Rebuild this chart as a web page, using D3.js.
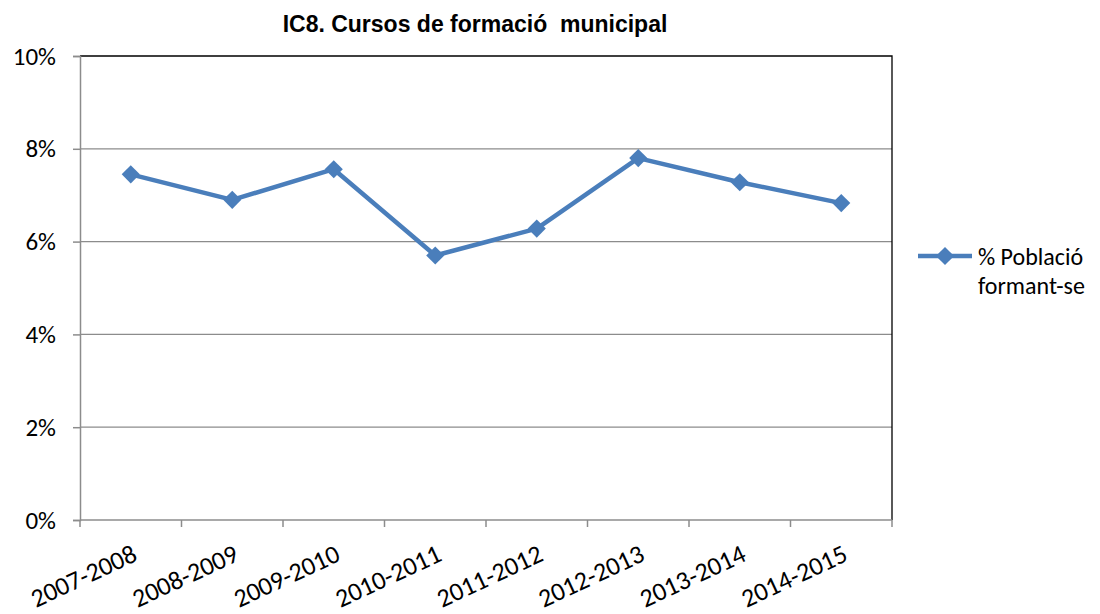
<!DOCTYPE html>
<html>
<head>
<meta charset="utf-8">
<script src="https://cdn.jsdelivr.net/npm/d3@7"></script>
<style>
  body { margin: 0; background: #fff; }
  svg { display: block; }
</style>
</head>
<body>
<div id="chart"></div>
<script>
var categories = ['2007-2008', '2008-2009', '2009-2010', '2010-2011', '2011-2012', '2012-2013', '2013-2014', '2014-2015'];
var values = [7.45, 6.90, 7.56, 5.70, 6.28, 7.80, 7.28, 6.83];
var yTicks = [0, 2, 4, 6, 8, 10];
var seriesName = ['% Població', 'formant-se'];
var title = 'IC8. Cursos de formació  municipal';

var w = 1100, h = 614;
var margin = { top: 56, right: 208, bottom: 94, left: 80 };
var color = '#4a7ebb';
var labelFont = 'Carlito, Calibri, Lato, "Open Sans", sans-serif';

var svg = d3.select('#chart').append('svg')
  .attr('width', w)
  .attr('height', h);

var x = d3.scaleBand()
  .domain(categories)
  .range([margin.left, w - margin.right]);

var y = d3.scaleLinear()
  .domain([0, 10])
  .range([h - margin.bottom, margin.top]);

// gridlines
svg.append('g').selectAll('line').data(yTicks.filter(function(d) { return d > 0 && d < 10; }))
  .enter().append('line')
  .attr('x1', margin.left).attr('x2', w - margin.right)
  .attr('y1', function(d) { return y(d); })
  .attr('y2', function(d) { return y(d); })
  .attr('stroke', '#8c8c8c')
  .attr('stroke-width', 1.3);

// plot frame: black top and right
svg.append('path')
  .attr('d', 'M' + margin.left + ',' + y(10) + 'H' + (w - margin.right) + 'V' + y(0))
  .attr('fill', 'none')
  .attr('stroke', '#000')
  .attr('stroke-width', 1.3);

// y axis
var yAxis = svg.append('g')
  .attr('transform', 'translate(' + margin.left + ',0)')
  .call(d3.axisLeft(y).tickValues(yTicks).tickSize(7).tickPadding(17)
    .tickFormat(function(d) { return d + '%'; }));
yAxis.selectAll('line, path').attr('stroke', '#8c8c8c').attr('stroke-width', 1.5);
yAxis.selectAll('text')
  .attr('font-family', labelFont)
  .attr('font-size', 25)
  .attr('fill', '#000');

// x axis with ticks at category boundaries
var xAxis = svg.append('g')
  .attr('transform', 'translate(0,' + y(0) + ')');
xAxis.append('line')
  .attr('x1', margin.left).attr('x2', w - margin.right)
  .attr('stroke', '#8c8c8c').attr('stroke-width', 1.5);
var bounds = categories.map(function(c) { return x(c); }).concat([w - margin.right]);
xAxis.selectAll('.tk').data(bounds).enter().append('line')
  .attr('class', 'tk')
  .attr('x1', function(d) { return d; }).attr('x2', function(d) { return d; })
  .attr('y1', 0).attr('y2', 7)
  .attr('stroke', '#8c8c8c').attr('stroke-width', 1.5);
xAxis.selectAll('text').data(categories).enter().append('text')
  .attr('transform', function(d) {
    return 'translate(' + (x(d) + x.bandwidth() / 2 + 8) + ',40) rotate(-25)';
  })
  .attr('text-anchor', 'end')
  .attr('font-family', labelFont)
  .attr('font-size', 26)
  .attr('fill', '#000')
  .text(function(d) { return d; });

// line
var line = d3.line()
  .x(function(d, i) { return x(categories[i]) + x.bandwidth() / 2; })
  .y(function(d) { return y(d); });

svg.append('path')
  .datum(values)
  .attr('d', line)
  .attr('fill', 'none')
  .attr('stroke', color)
  .attr('stroke-width', 4.5)
  .attr('stroke-linejoin', 'round');

var diamond = d3.symbol().type(d3.symbolDiamond2).size(210);
svg.append('g').selectAll('path').data(values)
  .enter().append('path')
  .attr('d', diamond)
  .attr('transform', function(d, i) {
    return 'translate(' + (x(categories[i]) + x.bandwidth() / 2) + ',' + y(d) + ')';
  })
  .attr('fill', color);

// title
svg.append('text')
  .attr('x', 475)
  .attr('y', 32)
  .attr('text-anchor', 'middle')
  .attr('font-family', '"Liberation Sans", Arial, sans-serif')
  .attr('font-weight', 'bold')
  .attr('font-size', 23)
  .attr('xml:space', 'preserve')
  .style('white-space', 'pre')
  .text(title);

// legend
var lg = svg.append('g').attr('transform', 'translate(918,256)');
lg.append('line')
  .attr('x1', 0).attr('x2', 54)
  .attr('stroke', color).attr('stroke-width', 4.5);
lg.append('path')
  .attr('d', diamond)
  .attr('transform', 'translate(27,0)')
  .attr('fill', color);
lg.selectAll('text').data(seriesName).enter().append('text')
  .attr('x', 60)
  .attr('y', function(d, i) { return 9 + i * 29; })
  .attr('font-family', labelFont)
  .attr('font-size', 24)
  .attr('fill', '#000')
  .text(function(d) { return d; });
</script>
</body>
</html>
